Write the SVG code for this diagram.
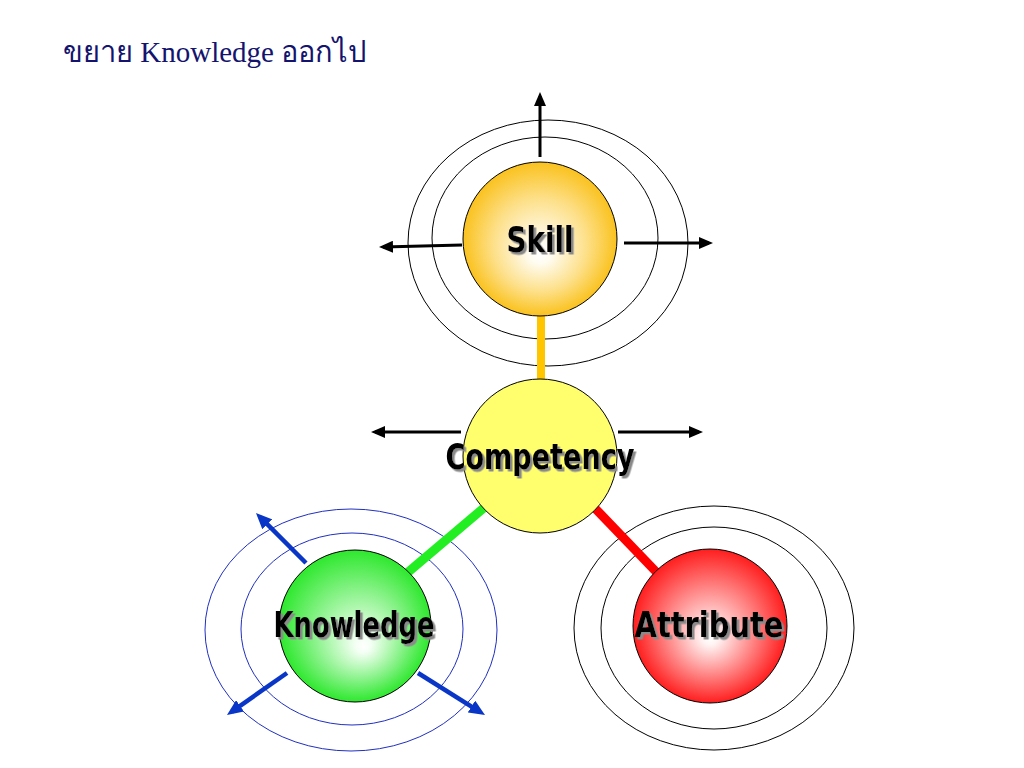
<svg xmlns="http://www.w3.org/2000/svg" width="1024" height="768" viewBox="0 0 1024 768">
  <style>
    .ring { fill: none; stroke: #000; stroke-width: 1; }
    .ringb { fill: none; stroke: #2030c0; stroke-width: 1; }
    .ball { stroke: #000; stroke-width: 1; }
    .arr { stroke: #000; stroke-width: 3; fill: none; marker-end: url(#ah); }
    .arrb { stroke: #0a36c8; stroke-width: 4.5; fill: none; marker-end: url(#ahb); }
    .lbl { font-family: "DejaVu Sans Condensed", "DejaVu Sans", sans-serif; font-stretch: condensed; font-weight: bold; font-size: 35px; fill: #000; text-anchor: middle; filter: url(#sh); }
    .title { font-family: "Liberation Serif", "Noto Serif", serif; font-size: 29px; fill: #14146e; }
  </style>
  <defs>
    <marker id="ah" markerUnits="userSpaceOnUse" markerWidth="14" markerHeight="12" refX="10" refY="6" orient="auto">
      <path d="M0,0 L14,6 L0,12 z" fill="#000"/>
    </marker>
    <marker id="ahb" markerUnits="userSpaceOnUse" markerWidth="16" markerHeight="14" refX="10" refY="7" orient="auto">
      <path d="M0,0 L16,7 L0,14 z" fill="#0a36c8"/>
    </marker>
    <radialGradient id="gSkill" cx="0.5" cy="0.5" r="0.5" fx="0.5" fy="0.6">
      <stop offset="0" stop-color="#ffffff"/>
      <stop offset="0.15" stop-color="#fffcf0"/>
      <stop offset="0.6" stop-color="#fde08a"/>
      <stop offset="1" stop-color="#fac21e"/>
    </radialGradient>
    <radialGradient id="gKnow" cx="0.5" cy="0.5" r="0.5" fx="0.56" fy="0.64">
      <stop offset="0" stop-color="#ffffff"/>
      <stop offset="0.1" stop-color="#f4fff4"/>
      <stop offset="1" stop-color="#2ee82e"/>
    </radialGradient>
    <radialGradient id="gAttr" cx="0.5" cy="0.5" r="0.5" fx="0.5" fy="0.58">
      <stop offset="0" stop-color="#ffffff"/>
      <stop offset="0.1" stop-color="#fff4f4"/>
      <stop offset="1" stop-color="#ff1e1e"/>
    </radialGradient>
    <filter id="sh" x="-10%" y="-20%" width="130%" height="150%">
      <feDropShadow dx="2.5" dy="2.5" stdDeviation="0.6" flood-color="#8a8a8a" flood-opacity="1"/>
    </filter>
  </defs>

  <rect x="0" y="0" width="1024" height="768" fill="#ffffff"/>

  <text class="title" x="63" y="62">ขยาย Knowledge ออกไป</text>

  <g id="rings">
    <ellipse class="ring" cx="548" cy="243" rx="140" ry="123"/>
    <ellipse class="ring" cx="545" cy="238" rx="113" ry="101"/>
    <ellipse class="ringb" cx="351" cy="630" rx="146" ry="121"/>
    <ellipse class="ringb" cx="352" cy="629" rx="111" ry="96"/>
    <ellipse class="ring" cx="714" cy="628" rx="140" ry="122"/>
    <ellipse class="ring" cx="714" cy="628" rx="113" ry="101"/>
  </g>

  <g id="connectors">
    <line x1="541" y1="300" x2="541" y2="395" stroke="#ffc600" stroke-width="8"/>
    <line x1="492" y1="501" x2="400" y2="579" stroke="#22ee22" stroke-width="9"/>
    <line x1="589" y1="502" x2="664" y2="580" stroke="#ff0000" stroke-width="9"/>
    <path class="arr" d="M540,157 L540,96"/>
    <path class="arr" d="M462,245 L383,247"/>
    <path class="arr" d="M624,243 L709,243"/>
    <path class="arr" d="M461,432 L375,432"/>
    <path class="arr" d="M618,432 L699,432"/>
    <path class="arrb" d="M306,563 L260.2,517.2"/>
    <path class="arrb" d="M287,673 L231.9,711.6"/>
    <path class="arrb" d="M418,673 L479.9,711.8"/>
  </g>

  <g id="skill">
    <circle class="ball" cx="540" cy="239" r="77" fill="url(#gSkill)"/>
    <text class="lbl" x="540" y="252" textLength="67" lengthAdjust="spacingAndGlyphs">Skill</text>
  </g>

  <g id="competency">
    <circle class="ball" cx="540" cy="456" r="77" fill="#ffff6e"/>
    <text class="lbl" x="540" y="469" textLength="189" lengthAdjust="spacingAndGlyphs">Competency</text>
  </g>

  <g id="knowledge">
    <circle class="ball" cx="355" cy="626" r="76" fill="url(#gKnow)"/>
    <text class="lbl" x="354" y="637" textLength="161" lengthAdjust="spacingAndGlyphs">Knowledge</text>
  </g>

  <g id="attribute">
    <circle class="ball" cx="710" cy="626" r="77" fill="url(#gAttr)"/>
    <text class="lbl" x="709" y="637" textLength="149" lengthAdjust="spacingAndGlyphs">Attribute</text>
  </g>
</svg>
